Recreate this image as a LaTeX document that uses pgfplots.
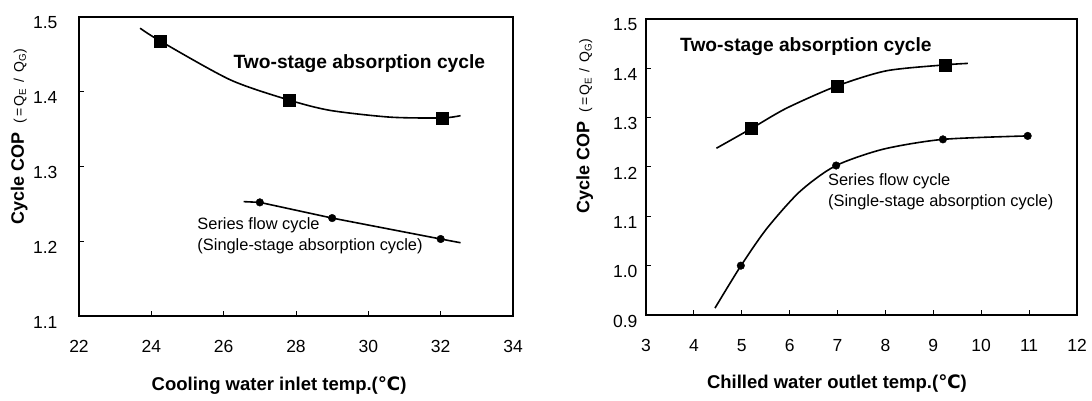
\documentclass[border=0pt]{standalone}
\usepackage{pgfplots}
\pgfplotsset{compat=1.18}
\usepackage{fontspec}
\setmainfont{Liberation Sans}
\newfontfamily\dejavu{DejaVu Sans}
\newfontfamily\spacedsans[LetterSpace=14]{Liberation Sans}
\begin{document}
\begin{tikzpicture}
\useasboundingbox (0,0) rectangle (1092pt,401pt);
\pgfplotsset{
  every axis/.append style={
    scale only axis,
    axis line style={line width=1.1pt},
    tick align=inside, xtick pos=bottom, ytick pos=left,
    major tick length=5pt, tick style={line width=1pt,black},
    /pgf/number format/assume math mode=true,
    tick label style={font=\fontsize{17.5}{17.5}\selectfont},
    yticklabel style={yshift=-6pt, /pgf/number format/fixed, /pgf/number format/fixed zerofill, /pgf/number format/precision=1},
    xticklabel style={yshift=-21pt},
    xlabel style={font=\bfseries\fontsize{18.5}{20}\selectfont, anchor=center},
    ylabel style={anchor=center},
    clip=false,
  },
  curve/.style={black, line width=1.6pt, smooth, tension=0.45, no marks},
  sq/.style={black, only marks, mark=square*, mark size=6pt},
  dot/.style={black, only marks, mark=*, mark size=3.8pt},
}
\newcommand{\coplabel}{{\bfseries\fontsize{18}{20}\selectfont Cycle COP}\hspace{9pt}{\spacedsans\fontsize{14}{16}\selectfont (=Q\textsubscript{E} / Q\textsubscript{G})}}
% ---------------- left panel ----------------
\begin{axis}[
  at={(79pt,85pt)}, anchor=south west,
  width=434pt, height=299pt,
  xmin=22, xmax=34, ymin=1.1, ymax=1.5,
  xtick={22,24,...,34}, ytick={1.1,1.2,...,1.5},
  yticklabel style={xshift=-18pt},
  xlabel={Cooling water inlet temp.({\dejavu ℃})},
  xlabel style={at={(axis description cs:0.461,-0.231)}},
  ylabel={\coplabel},
  ylabel style={at={(axis description cs:-0.138,0.6)}},
]
\addplot[curve] coordinates {(23.69,1.485) (24.24,1.468) (26.18,1.416) (27.80,1.389) (28.95,1.375) (30.61,1.366) (32.05,1.365) (32.55,1.368)};
\addplot[sq] coordinates {(24.24,1.468) (27.80,1.389) (32.05,1.364)};
\addplot[black, line width=1.6pt, no marks] coordinates {(26.55,1.253) (27.0,1.252) (29.0,1.231) (32.0,1.203) (32.55,1.198)};
\addplot[dot] coordinates {(27.0,1.252) (29.0,1.231) (32.0,1.203)};
\node[anchor=west, font=\bfseries\fontsize{19.2}{21}\selectfont, inner sep=0pt] at (axis cs:26.27,1.438) {Two-stage absorption cycle};
\node[anchor=west, align=left, font=\fontsize{16.4}{21}\selectfont, inner sep=0pt] at (axis cs:25.27,1.208) {Series flow cycle\\(Single-stage absorption cycle)};
\end{axis}
% ---------------- right panel ----------------
\begin{axis}[
  at={(646pt,86pt)}, anchor=south west,
  width=431pt, height=296pt,
  xmin=3, xmax=12, ymin=0.9, ymax=1.5,
  xtick={3,4,...,12}, ytick={0.9,1.0,...,1.5},
  yticklabel style={xshift=-5pt},
  xlabel={Chilled water outlet temp.({\dejavu ℃})},
  xlabel style={at={(axis description cs:0.443,-0.23)}},
  ylabel={\coplabel},
  ylabel style={at={(axis description cs:-0.142,0.638)}},
]
\addplot[curve] coordinates {(4.47,1.238) (5.20,1.278) (5.93,1.319) (6.98,1.364) (8.02,1.395) (9.24,1.407) (9.72,1.410)};
\addplot[sq] coordinates {(5.2,1.278) (7.0,1.364) (9.25,1.407)};
\addplot[curve] coordinates {(4.44,0.914) (4.97,0.998) (5.52,1.075) (6.21,1.150) (6.95,1.202) (7.95,1.236) (9.2,1.256) (10.97,1.263)};
\addplot[dot] coordinates {(4.98,1.0) (6.97,1.203) (9.2,1.256) (10.97,1.263)};
\node[anchor=west, font=\bfseries\fontsize{19.2}{21}\selectfont, inner sep=0pt] at (axis cs:3.71,1.444) {Two-stage absorption cycle};
\node[anchor=west, align=left, font=\fontsize{16.4}{21}\selectfont, inner sep=0pt] at (axis cs:6.80,1.149) {Series flow cycle\\(Single-stage absorption cycle)};
\end{axis}
\end{tikzpicture}
\end{document}
